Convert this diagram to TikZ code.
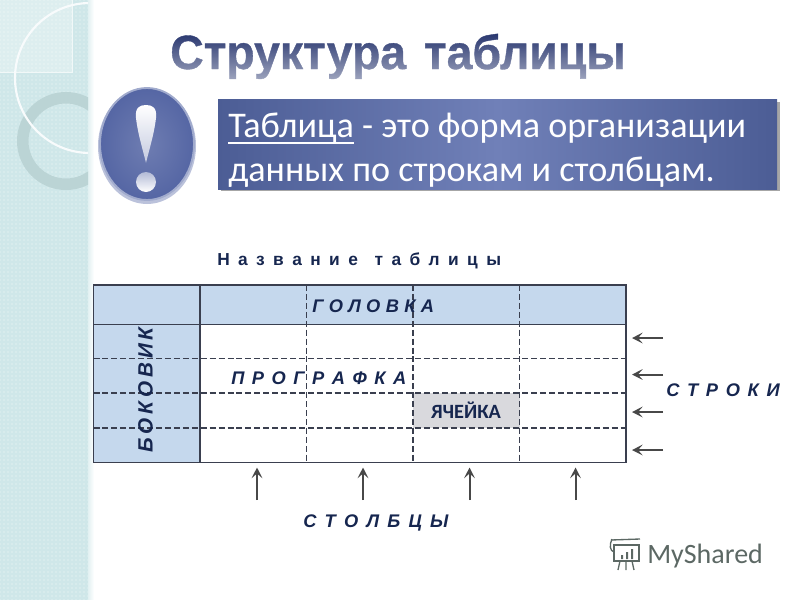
\documentclass[tikz,border=0pt]{standalone}
\usepackage{fontspec}
\setmainfont{Liberation Sans}
\newfontfamily\carlito{Carlito}
\usetikzlibrary{patterns,fadings,arrows.meta}
\definecolor{navy}{HTML}{16264F}
\definecolor{hdr}{HTML}{C5D8ED}
\definecolor{linec}{HTML}{3A3F4F}
\definecolor{arrowc}{HTML}{484848}
\definecolor{side}{HTML}{CFE7E9}
\definecolor{ringc}{HTML}{B9D2D3}
\definecolor{titleblue}{HTML}{1B2A66}
\definecolor{boxedge}{HTML}{4C5D95}
\definecolor{boxmid}{HTML}{7080B8}
\definecolor{ovalc}{HTML}{5566A4}
\definecolor{logoc}{HTML}{5C6864}
\definecolor{cellc}{HTML}{D9D9DD}
\newcommand\heavyul[1]{\setbox0=\hbox{#1}\rlap{\rule[-4.6pt]{\wd0}{1.3pt}}\box0 }
\tikzfading[name=titlefade, top color=transparent!100, bottom color=transparent!40]
\tikzset{
 lbl/.style={font=\fontsize{13.7}{16}\selectfont\bfseries\itshape, text=navy, inner sep=0pt},
 wordgap/.style={execute at begin node={\spaceskip=#1\relax}},
 solidline/.style={draw=linec, line width=0.9pt},
 dashline/.style={draw=linec, line width=0.8pt, dash pattern=on 4.5pt off 2.2pt},
 markarrow/.style={draw=arrowc, line width=1.5pt, -{Stealth[length=8pt,width=8pt,inset=3.5pt]}},
 deftext/.style={font=\carlito\fontsize{27.1}{32.25}\selectfont, text=white, anchor=base west, inner sep=0pt},
}
\begin{document}
\begin{tikzpicture}[x=0.75pt,y=-0.75pt]
\useasboundingbox (0,0) rectangle (800,600);
% sidebar
\fill[side] (0,0) rectangle (88,600);
\fill[pattern=dots, pattern color=white!75!side] (0,0) rectangle (88,600);
\shade[left color=side!60!white, right color=white] (88,0) rectangle (94,600);
\begin{scope}
\clip (0,0) rectangle (88,600);
\fill[white, opacity=.3] (0,0) rectangle (72,72);
\draw[white!70!side, line width=.5pt] (0,72) -- (72,72) -- (72,0);
\fill[even odd rule, fill=ringc, opacity=.9] (66,141) circle [radius=49] (66,141) circle [radius=37.5];
\draw[white!85!side, line width=1.6pt] (90,78) circle [radius=75];
\end{scope}
% title
\node[font=\fontsize{36}{44}\selectfont\bfseries\addfontfeature{FakeBold=0.8}, text=titleblue, anchor=base west, inner sep=0pt, xscale=.965] (title) at (170,69) {Структура\hspace{4pt} таблицы};
\fill[white, path fading=titlefade] (160,28) rectangle (640,82);
% exclamation oval
\fill[ovalc!40!white] (147,146) ellipse [x radius=49, y radius=58];
\shade[inner color=ovalc!85!white, outer color=ovalc, draw=ovalc!55!white, line width=1.4pt] (147,144) ellipse [x radius=47, y radius=56];
\shade[top color=white, bottom color=ovalc!35!white]
 (146,105) .. controls (153,105) and (157,108) .. (156,118)
 .. controls (154,135) and (149,150) .. (146,163)
 .. controls (143,150) and (138,135) .. (136,118)
 .. controls (135,108) and (139,105) .. (146,105) -- cycle;
\shade[top color=ovalc!45!white, bottom color=white] (146,182) circle [radius=10];
% definition box
\fill[black!50, opacity=.7] (221,102) rectangle (780,191);
\shade[left color=boxedge, right color=boxedge, middle color=boxmid] (218,99) rectangle (777,189);
\node[deftext] (defa) at (228,137.5) {\heavyul{Таблица} - это форма организации};
\node[deftext] (defb) at (228,181) {данных по строкам и столбцам.};
% table
\fill[hdr] (93.5,285) rectangle (626,324.5);
\fill[hdr] (93.5,324.5) rectangle (200,462.5);
\fill[cellc] (413,393) rectangle (519.5,428);
\foreach \yy in {358.7,393,428} \draw[dashline] (93.5,\yy) -- (626,\yy);
\foreach \xx in {306.5,413,519.5} \draw[dashline] (\xx,285) -- (\xx,462.5);
\draw[solidline] (200,285) -- (200,462.5);
\draw[solidline] (93.5,324.5) -- (626,324.5);
\draw[solidline] (93.5,285) rectangle (626,462.5);
% labels
\node[lbl, font=\fontsize{13}{16}\selectfont\bfseries, wordgap=6.3pt, anchor=base west] (name) at (217,265) {Н а з в а н и е\ \ т а б л и ц ы};
\node[lbl, wordgap=4pt, anchor=base west] (head) at (312,312) {Г О Л О В К А};
\node[lbl, wordgap=5.64pt, anchor=base west] (prog) at (231,384) {П Р О Г Р А Ф К А};
\node[lbl, font=\fontsize{15.5}{18}\selectfont\bfseries\itshape, wordgap=2.9pt, rotate=90, anchor=base] (sidelbl) at (152.5,390) {Б О К О В И К};
\node[font=\carlito\fontsize{15.2}{18}\selectfont\bfseries, text=navy, inner sep=0pt] (cell) at (466,410.5) {ЯЧЕЙКА};
\node[lbl, wordgap=5.76pt, anchor=base west] (rows) at (666,396.5) {С Т Р О К И};
\node[lbl, wordgap=6.2pt, anchor=base west] (cols) at (303,527) {С Т О Л Б Ц Ы};
% arrows
\foreach \nn/\yy in {a/338,b/374.5,c/412,d/450} {
 \coordinate (r\nn s) at (663,\yy); \coordinate (r\nn e) at (632,\yy);
 \draw[markarrow] (r\nn s) -- (r\nn e);
}
\foreach \nn/\xx in {a/257,b/363,c/469.5,d/575.5} {
 \coordinate (c\nn s) at (\xx,500); \coordinate (c\nn e) at (\xx,467.5);
 \draw[markarrow] (c\nn s) -- (c\nn e);
}
% logo
\begin{scope}[draw=logoc, line width=1pt]
\draw (614,545) rectangle (639,561);
\draw (611,540) -- (640,539);
\draw (612,539) .. controls (609,545) and (610,551) .. (614,552);
\fill[logoc] (621,555) rectangle (623,559) (626,552) rectangle (628,559) (631,549) rectangle (633,559);
\draw (620,561) -- (618,570) (626,561) -- (626,570) (632,561) -- (634,570);
\end{scope}
\node[font=\carlito\fontsize{21}{25}\selectfont, text=logoc, anchor=base west, inner sep=0pt] (logo) at (647,563.5) {MyShared};
\end{tikzpicture}
\end{document}
